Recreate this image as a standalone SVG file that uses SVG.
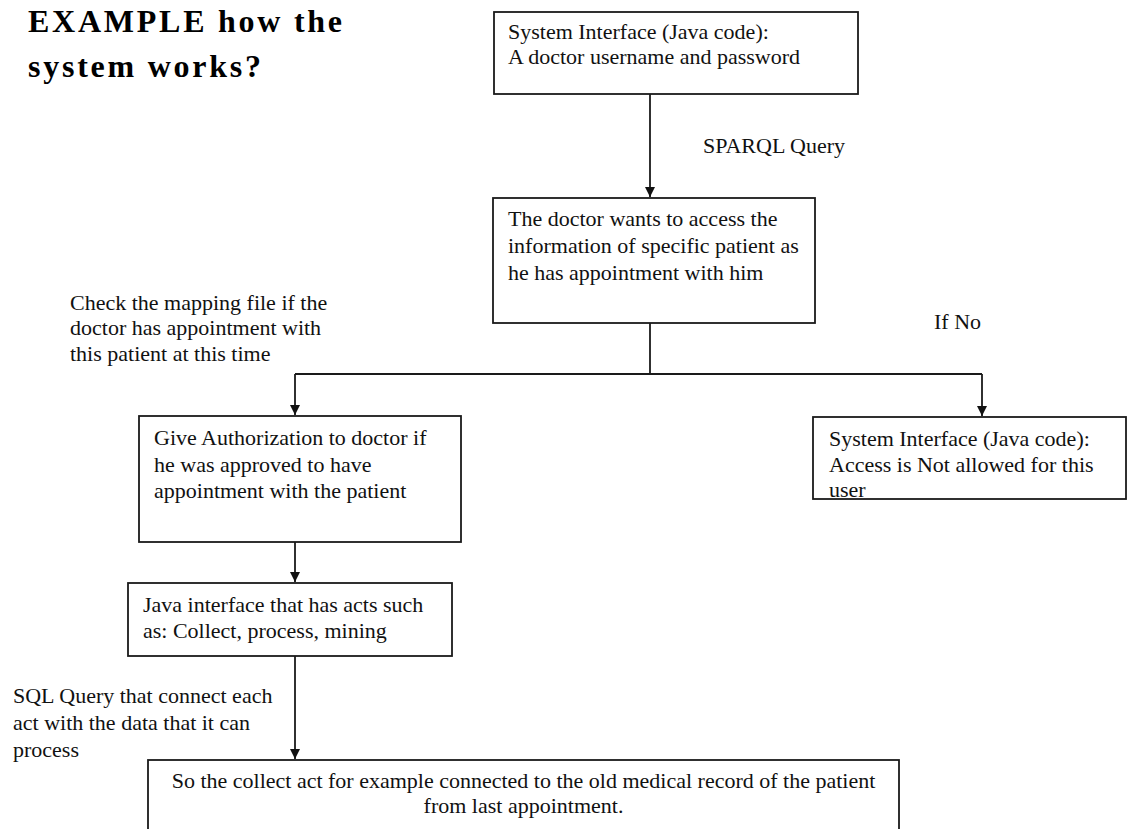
<svg xmlns="http://www.w3.org/2000/svg" width="1127" height="829" viewBox="0 0 1127 829">
  <style>
    .box { fill: #ffffff; stroke: #1a1a1a; stroke-width: 1.8; }
    .wire { fill: none; stroke: #1a1a1a; stroke-width: 1.8; }
    .txt { font-family: "Liberation Serif", "Times New Roman", serif; font-size: 22px; fill: #111111; }
    .title { font-family: "Liberation Serif", "Times New Roman", serif; font-size: 32px; font-weight: bold; letter-spacing: 2.75px; fill: #000000; }
  </style>
  <defs>
    <marker id="arrow" markerUnits="userSpaceOnUse" markerWidth="12" markerHeight="12" refX="10" refY="5" orient="auto">
      <path d="M0,0 L10,5 L0,10 Z" fill="#111111"/>
    </marker>
  </defs>
  <rect width="1127" height="829" fill="#ffffff"/>

  <!-- heading -->
  <g id="heading">
    <text class="title" x="28" y="32">EXAMPLE how the</text>
    <text class="title" x="28" y="77">system works?</text>
  </g>

  <!-- connectors -->
  <g id="connectors">
    <line class="wire" x1="650" y1="94" x2="650" y2="197" marker-end="url(#arrow)"/>
    <polyline class="wire" points="650,323 650,374"/>
    <polyline class="wire" points="295,374 982,374"/>
    <line class="wire" x1="295" y1="374" x2="295" y2="415" marker-end="url(#arrow)"/>
    <line class="wire" x1="982" y1="374" x2="982" y2="416" marker-end="url(#arrow)"/>
    <line class="wire" x1="295" y1="542" x2="295" y2="582" marker-end="url(#arrow)"/>
    <line class="wire" x1="295" y1="656" x2="295" y2="759" marker-end="url(#arrow)"/>
  </g>

  <!-- edge labels -->
  <g id="labels">
    <text class="txt" x="703" y="153">SPARQL Query</text>
    <text class="txt" x="70" y="310">Check the mapping file if the</text>
    <text class="txt" x="70" y="335">doctor has appointment with</text>
    <text class="txt" x="70" y="361">this patient at this time</text>
    <text class="txt" x="934" y="329">If No</text>
    <text class="txt" x="13" y="703">SQL Query that connect each</text>
    <text class="txt" x="13" y="730">act with the data that it can</text>
    <text class="txt" x="13" y="757">process</text>
  </g>

  <g id="login">
    <rect class="box" x="494" y="12" width="364" height="82"/>
    <text class="txt" x="508" y="39">System Interface (Java code):</text>
    <text class="txt" x="508" y="64">A doctor username and password</text>
  </g>

  <g id="request">
    <rect class="box" x="493" y="198" width="322" height="125"/>
    <text class="txt" x="508" y="226">The doctor wants to access the</text>
    <text class="txt" x="508" y="253">information of specific patient as</text>
    <text class="txt" x="508" y="280">he has appointment with him</text>
  </g>

  <g id="authorize">
    <rect class="box" x="139" y="416" width="322" height="126"/>
    <text class="txt" x="154" y="445">Give Authorization to doctor if</text>
    <text class="txt" x="154" y="472">he was approved to have</text>
    <text class="txt" x="154" y="498">appointment with the patient</text>
  </g>

  <g id="denied">
    <rect fill="#ffffff" x="813" y="417" width="313" height="82"/>
    <text class="txt" x="829" y="446">System Interface (Java code):</text>
    <text class="txt" x="829" y="472">Access is Not allowed for this</text>
    <text class="txt" x="829" y="497">user</text>
    <!-- outline drawn after the text so the last line sits under the border -->
    <rect class="box" style="fill:none" x="813" y="417" width="313" height="82"/>
  </g>

  <g id="acts">
    <rect class="box" x="128" y="583" width="324" height="73"/>
    <text class="txt" x="143" y="612">Java interface that has acts such</text>
    <text class="txt" x="143" y="638">as: Collect, process, mining</text>
  </g>

  <g id="collect">
    <rect class="box" x="148" y="760" width="751" height="100"/>
    <text class="txt" x="523.5" y="788" text-anchor="middle">So the collect act for example connected to the old medical record of the patient</text>
    <text class="txt" x="523.5" y="813" text-anchor="middle">from last appointment.</text>
  </g>
</svg>
